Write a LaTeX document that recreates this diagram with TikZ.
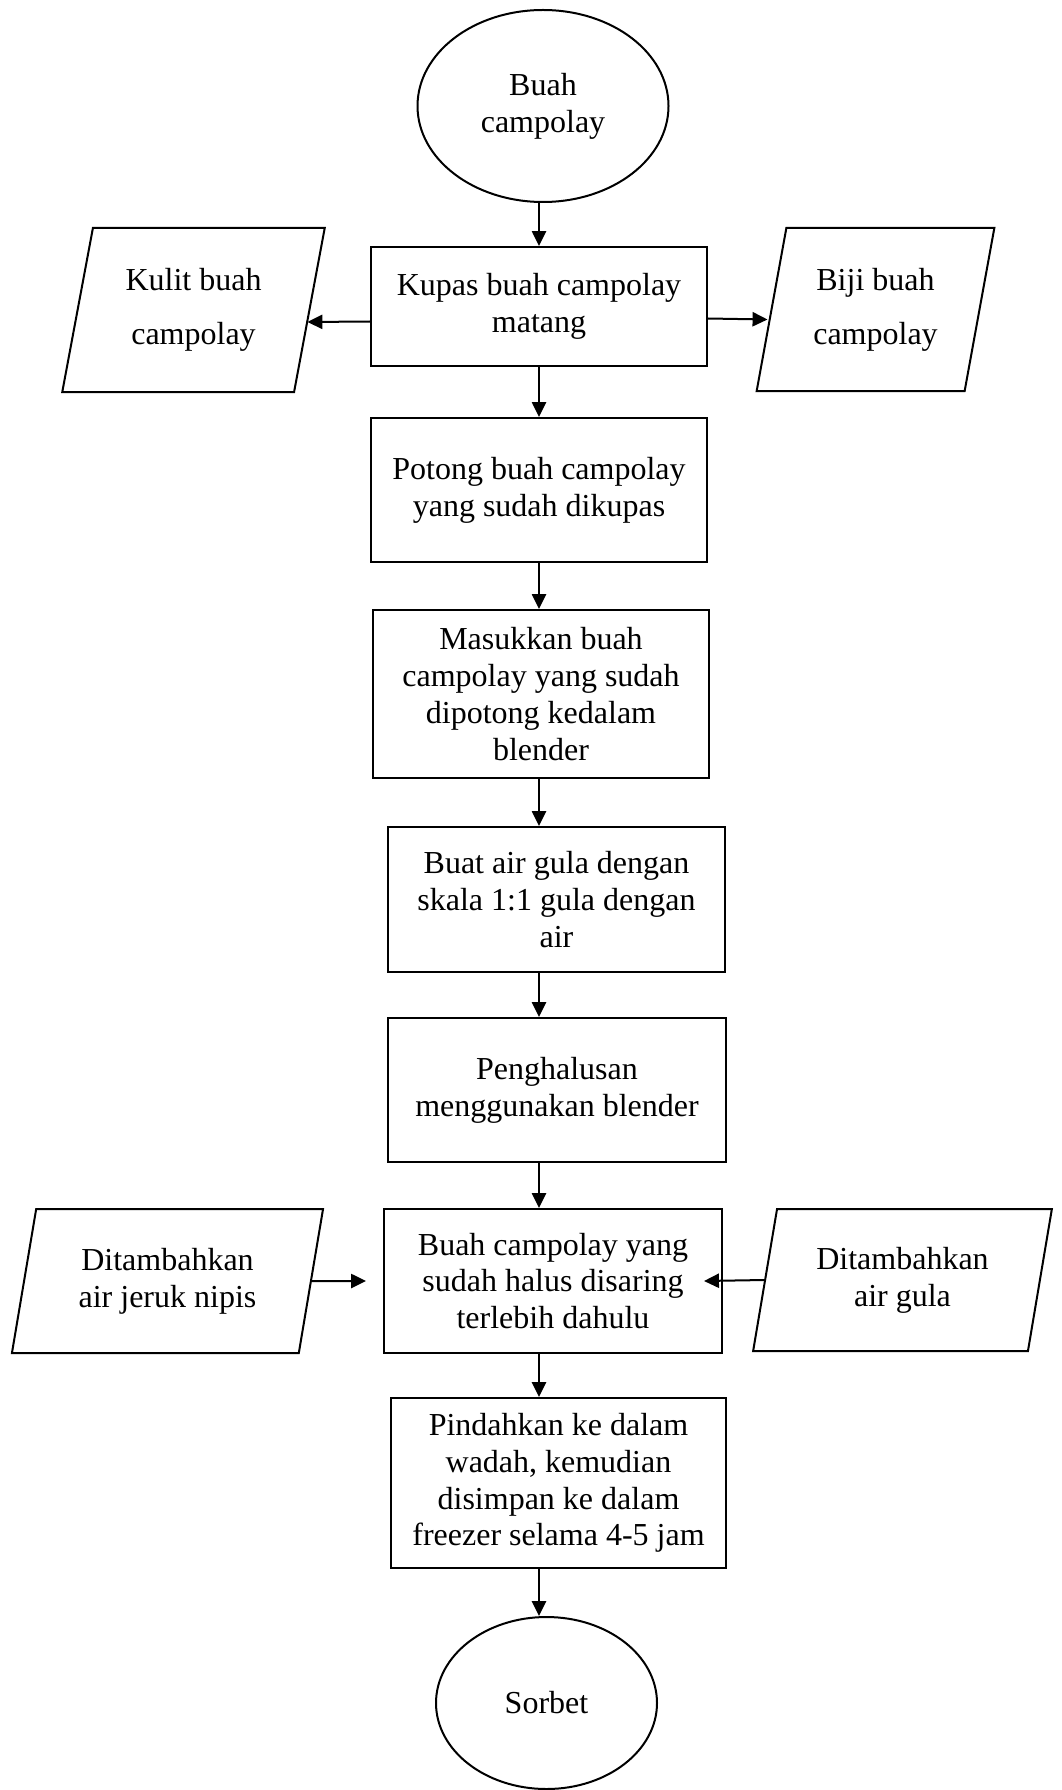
\documentclass[tikz,border=0pt]{standalone}
\usepackage{fontspec}
\setmainfont{Liberation Serif}
\usetikzlibrary{shapes.geometric}
\usetikzlibrary{arrows.meta}
\usetikzlibrary{calc}

\begin{document}
\begin{tikzpicture}[x=0.375pt,y=-0.375pt]
    \useasboundingbox (0,0) rectangle (1061,1790);
    \begin{scope}[line width=0.75pt,font=\fontsize{12}{13.8}\selectfont,>={Triangle[length=5.6pt,width=5.3pt]},
        box/.style 2 args={draw,rectangle,align=center,inner sep=0pt,minimum width=#1*0.375pt,minimum height=#2*0.375pt},
        terminal/.style 2 args={draw,ellipse,align=center,inner sep=0pt,minimum width=#1*0.375pt,minimum height=#2*0.375pt},
        data/.style 2 args={draw,trapezium,trapezium left angle=76,trapezium right angle=104,trapezium stretches=true,
            align=center,inner sep=0pt,minimum width=#1*0.375pt,minimum height=#2*0.375pt}]
    % Start and end:
    \node[terminal={251}{192}] (buah) at (543,106) {Buah\\campolay};
    \node[terminal={221}{172}] (sorbet) at (546.5,1703) {Sorbet};

    % Steps down the middle:
    \node[box={336}{119}] (kupas) at (539,306.5) {Kupas buah campolay\\matang};
    \node[box={336}{144}] (potong) at (539,490) {Potong buah campolay\\yang sudah dikupas};
    \node[box={336}{168}] (masukkan) at (541,694) {Masukkan buah\\campolay yang sudah\\dipotong kedalam\\blender};
    \node[box={337}{145}] (buat) at (556.5,899.5) {Buat air gula dengan\\skala 1:1 gula dengan\\air};
    \node[box={338}{144}] (halus) at (557,1090) {Penghalusan\\menggunakan blender};
    \node[box={338}{144}] (saring) at (553,1281) {Buah campolay yang\\sudah halus disaring\\terlebih dahulu};
    \node[box={335}{170}] (pindah) at (558.5,1483) {Pindahkan ke dalam\\wadah, kemudian\\disimpan ke dalam\\freezer selama 4-5 jam};

    % Side inputs and outputs:
    \node[data={263}{164},font=\fontsize{12}{20.25}\selectfont] (kulit) at (193.5,310) {Kulit buah\\campolay};
    \node[data={239}{163},font=\fontsize{12}{20.25}\selectfont] (biji) at (875.5,309.5) {Biji buah\\campolay};
    \node[data={313}{144}] (nipis) at (167.5,1281) {Ditambahkan\\air jeruk nipis};
    \node[data={301}{142}] (gula) at (902.5,1280) {Ditambahkan\\air gula};

    % Arrows:
    \coordinate (spine) at (539,0);
    \draw[->] (spine |- buah.south) -- (kupas.north);
    \foreach \a/\b in {kupas/potong,potong/masukkan,masukkan/buat,buat/halus,halus/saring,saring/pindah,pindah/sorbet}
        \draw[->] (spine |- \a.south) -- (spine |- \b.north);
    \draw[->] ($(kupas.west)+(0,15)$) -- ($(kulit.east)+(-3,12)$);
    \draw[->] ($(kupas.east)+(0,12)$) -- ($(biji.west)+(-3,10)$);
    \draw[->] (nipis.east) -- ($(saring.west)+(-17,0)$);
    \draw[->] (gula.west) -- ($(saring.east)+(-19,0)$);
    \end{scope}
\end{tikzpicture}
\end{document}
